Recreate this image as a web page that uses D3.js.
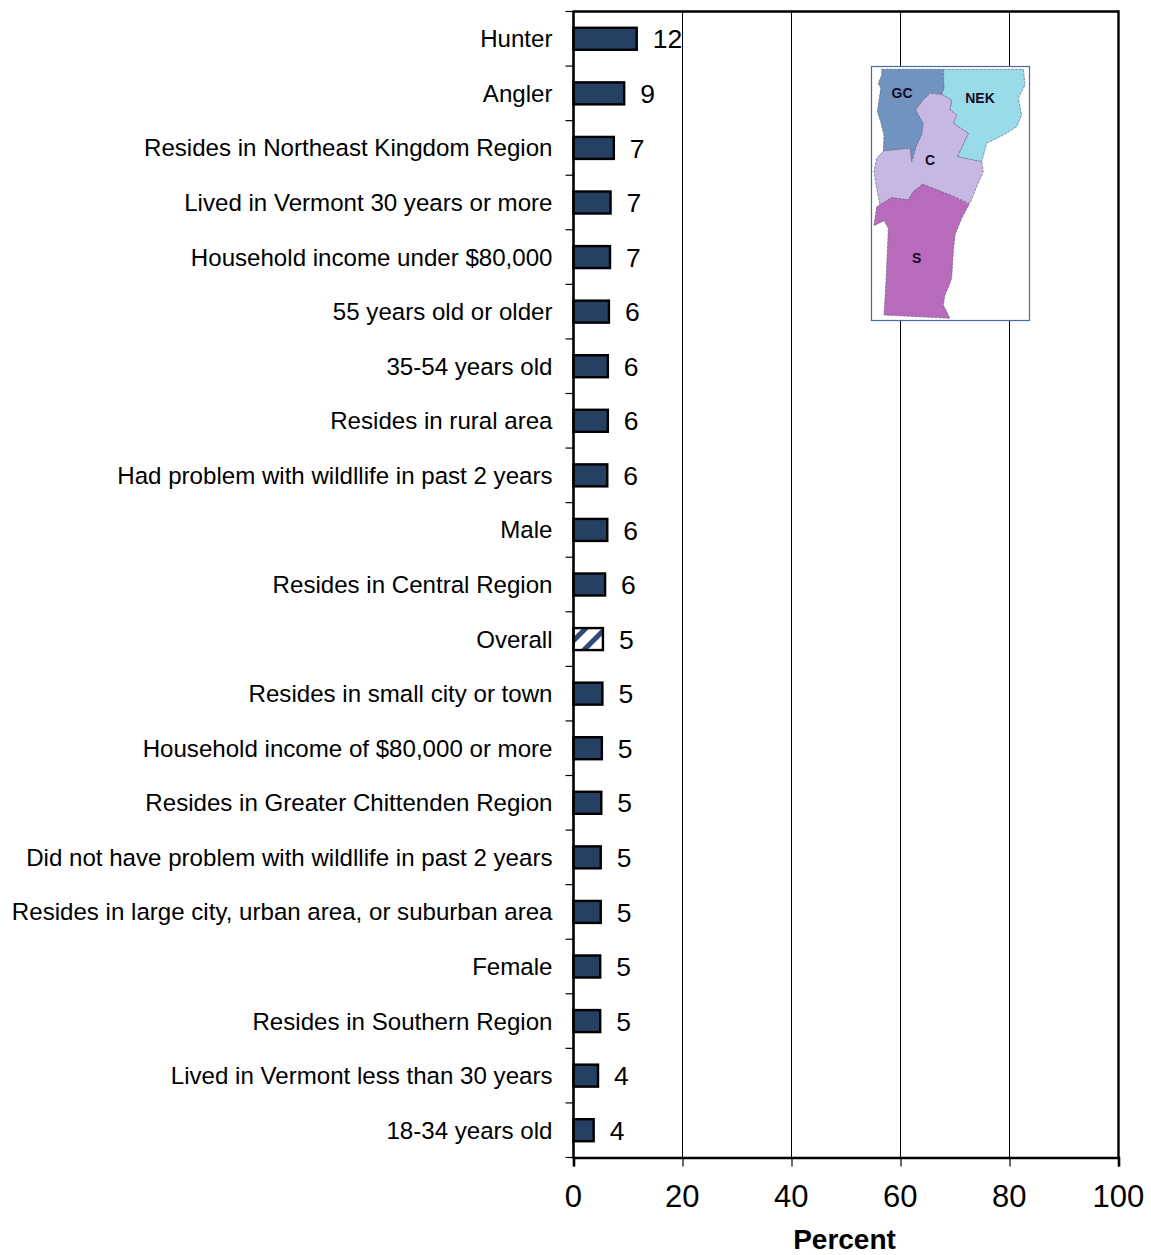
<!DOCTYPE html>
<html><head><meta charset="utf-8">
<script src="https://cdn.jsdelivr.net/npm/d3@7/dist/d3.min.js"></script>
<style>html,body{margin:0;padding:0;background:#fff}svg{display:block}text{font-family:"Liberation Sans",Arial,sans-serif;fill:#000}</style>
</head><body><div id="chart"></div>
<script>
const categories=["Hunter","Angler","Resides in Northeast Kingdom Region","Lived in Vermont 30 years or more","Household income under $80,000","55 years old or older","35-54 years old","Resides in rural area","Had problem with wildllife in past 2 years","Male","Resides in Central Region","Overall","Resides in small city or town","Household income of $80,000 or more","Resides in Greater Chittenden Region","Did not have problem with wildllife in past 2 years","Resides in large city, urban area, or suburban area","Female","Resides in Southern Region","Lived in Vermont less than 30 years","18-34 years old"];
const values=[11.6,9.3,7.4,6.8,6.7,6.5,6.3,6.3,6.2,6.2,5.8,5.4,5.3,5.2,5.1,5.0,5.0,4.9,4.9,4.5,3.7];
const valueLabels=["12","9","7","7","7","6","6","6","6","6","6","5","5","5","5","5","5","5","5","4","4"];
const xTicks=[0,20,40,60,80,100];
const mapRegions=[
 {name:"GC",color:"#7094bf",lx:126,ly:115,pts:[[65,43],[250,43],[252,100],[245,118],[210,115],[185,140],[167,165],[178,185],[190,205],[185,240],[170,270],[155,320],[150,280],[70,288],[72,240],[62,200],[52,170],[58,130],[62,100],[55,85],[65,60]]},
 {name:"NEK",color:"#9adbe9",lx:360,ly:128,pts:[[250,43],[490,43],[495,90],[475,130],[485,180],[470,215],[430,240],[380,265],[365,320],[330,315],[292,305],[325,235],[280,205],[290,180],[270,165],[275,135],[245,118],[252,100]]},
 {name:"C",color:"#c7b8e3",lx:210,ly:316,pts:[[245,118],[275,135],[270,165],[290,180],[280,205],[325,235],[292,305],[365,320],[370,350],[350,395],[330,445],[270,420],[188,388],[160,410],[145,435],[95,428],[60,450],[50,400],[42,350],[50,310],[70,288],[150,280],[155,320],[170,270],[185,240],[190,205],[167,165],[185,140],[210,115]]},
 {name:"S",color:"#b96bbb",lx:170,ly:610,pts:[[188,388],[270,420],[328,447],[305,490],[285,540],[280,590],[275,670],[268,690],[255,720],[250,750],[270,790],[72,780],[78,680],[85,520],[72,497],[42,512],[50,455],[95,428],[145,435],[160,410]]}
];
const W=1151,H=1255,plotL=573.5,plotR=1118.5,plotT=11.5,plotB=1157.5;
const svg=d3.select("#chart").append("svg").attr("width",W).attr("height",H);
const defs=svg.append("defs");
const pat=defs.append("pattern").attr("id","hatch").attr("patternUnits","userSpaceOnUse").attr("width",14).attr("height",14).attr("patternTransform","rotate(45) translate(2,0)");
pat.append("rect").attr("width",14).attr("height",14).attr("fill","#fff");
pat.append("rect").attr("width",5).attr("height",14).attr("fill","#2f4a78");
const x=d3.scaleLinear().domain([0,100]).range([plotL,plotR]);
const y=d3.scaleBand().domain(categories).range([plotT,plotB]);
svg.append("g").selectAll("line").data(xTicks.slice(1,-1)).join("line")
 .attr("x1",d=>x(d)).attr("x2",d=>x(d)).attr("y1",plotT).attr("y2",plotB).attr("stroke","#000").attr("stroke-width",1);
svg.append("g").selectAll("rect").data(categories).join("rect")
 .attr("x",x(0)).attr("y",d=>y(d)+y.bandwidth()/2-11)
 .attr("width",(d,i)=>x(values[i])-x(0)).attr("height",22)
 .attr("fill",d=>d==="Overall"?"url(#hatch)":"#264064")
 .attr("stroke","#000").attr("stroke-width",2.4);
svg.append("path").attr("d",`M${plotL},${plotT}H${plotR}V${plotB}`).attr("fill","none").attr("stroke","#000").attr("stroke-width",2.4);
const gx=svg.append("g").attr("transform",`translate(0,${plotB})`)
 .call(d3.axisBottom(x).tickValues(xTicks).tickSize(9).tickPadding(18));
gx.select(".domain").attr("stroke-width",2.6);
gx.selectAll(".tick line").attr("stroke-width",1.2);
gx.selectAll("text").attr("dx",-0.7).style("font-size","31px").style("font-family",'"Liberation Sans"');
const gy=svg.append("g").attr("transform",`translate(${plotL},0)`)
 .call(d3.axisLeft(y).tickSize(0).tickPadding(21));
gy.select(".domain").attr("stroke-width",2.6).attr("d",`M0,${plotT-1}V${plotB+1}`);
gy.selectAll("text").style("font-size","24.1px").style("font-family",'"Liberation Sans"').attr("dy","0.35em");
svg.append("g").selectAll("line").data(d3.range(categories.length+1)).join("line")
 .attr("x1",plotL-8).attr("x2",plotL)
 .attr("y1",i=>plotT+i*y.step()).attr("y2",i=>plotT+i*y.step())
 .attr("stroke","#000").attr("stroke-width",1.2);
svg.append("g").selectAll("text").data(categories).join("text")
 .attr("x",(d,i)=>x(values[i])+16).attr("y",d=>y(d)+y.bandwidth()/2+9.7)
 .attr("font-size",26.5).text((d,i)=>valueLabels[i]);
svg.append("text").attr("x",844.5).attr("y",1249).attr("text-anchor","middle")
 .attr("font-size",28).attr("font-weight","bold").text("Percent");
const mx=d3.scaleLinear().domain([0,180]).range([860,1040]);
const my=d3.scaleLinear().domain([0,275]).range([55,330]);
const toPx=p=>[mx(p[0]/3),my(p[1]/3)];
const inset=svg.append("g");
inset.append("rect").attr("x",871.5).attr("y",66.5).attr("width",158).attr("height",254).attr("fill","#fff").attr("stroke","#4a6b9b").attr("stroke-width",1.2);
inset.selectAll("path").data(mapRegions).join("path")
 .attr("d",d=>d3.line().curve(d3.curveLinearClosed)(d.pts.map(toPx)))
 .attr("fill",d=>d.color).attr("stroke","#5a5a7a").attr("stroke-width",.6).attr("stroke-dasharray","3 1");
inset.selectAll("text").data(mapRegions).join("text")
 .attr("x",d=>mx(d.lx/3)).attr("y",d=>my(d.ly/3)+5)
 .attr("text-anchor","middle").attr("font-size",14).attr("font-weight","bold").style("fill","#140a28").text(d=>d.name);
</script></body></html>
